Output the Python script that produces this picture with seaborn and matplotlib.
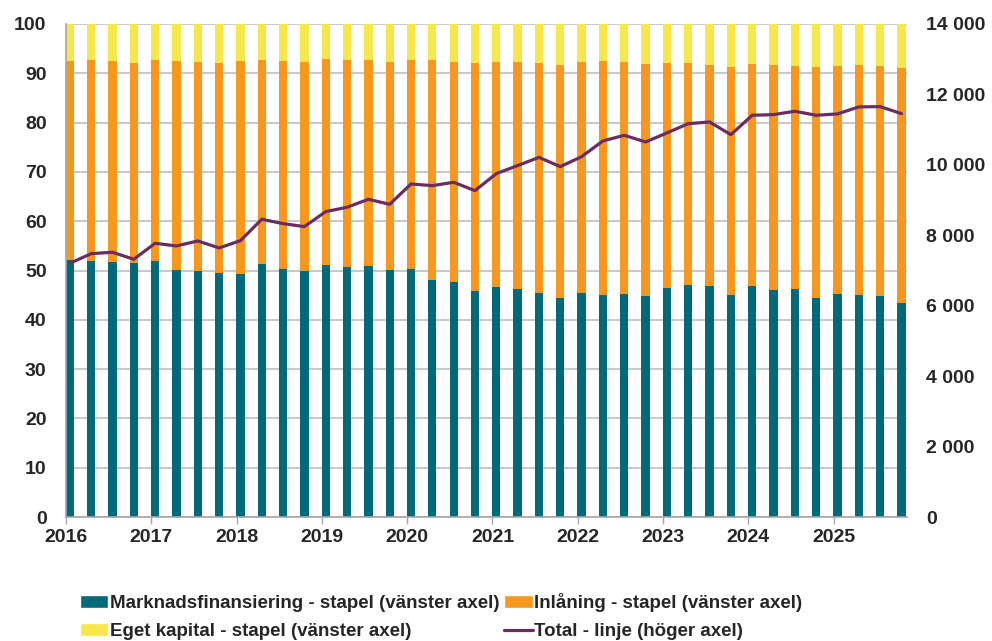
import numpy as np
import pandas as pd
import matplotlib
matplotlib.use("Agg")
import matplotlib.pyplot as plt
import seaborn as sns
from matplotlib.patches import Patch
from matplotlib.lines import Line2D

# ---------------- data ----------------
quarters = [f"{y}Q{q}" for y in range(2016, 2026) for q in range(1, 5)]

marknad = [52.2, 51.9, 51.8, 51.6, 52.0, 50.1, 50.0, 49.5, 49.3, 51.3,
           50.4, 50.0, 51.2, 50.7, 50.9, 50.2, 50.3, 48.1, 47.6, 45.9,
           46.6, 46.2, 45.4, 44.4, 45.4, 45.1, 45.2, 44.9, 46.4, 47.0,
           46.9, 45.1, 46.8, 46.1, 46.3, 44.5, 45.3, 45.1, 44.8, 43.5]

inlaning = [40.3, 40.7, 40.6, 40.4, 40.6, 42.3, 42.3, 42.5, 43.2, 41.4,
            42.0, 42.2, 41.7, 42.0, 41.7, 42.1, 42.4, 44.5, 44.7, 46.1,
            45.6, 46.0, 46.7, 47.3, 46.8, 47.3, 47.0, 46.9, 45.6, 45.0,
            44.8, 46.2, 45.1, 45.6, 45.2, 46.7, 46.2, 46.6, 46.6, 47.5]

eget = [7.5, 7.4, 7.6, 8.0, 7.4, 7.6, 7.7, 8.0, 7.5, 7.3,
        7.6, 7.8, 7.1, 7.3, 7.4, 7.7, 7.3, 7.4, 7.7, 8.0,
        7.8, 7.8, 7.9, 8.3, 7.8, 7.6, 7.8, 8.2, 8.0, 8.0,
        8.3, 8.7, 8.1, 8.3, 8.5, 8.8, 8.5, 8.3, 8.6, 9.0]

total = [7205, 7478, 7518, 7319, 7773, 7697, 7839, 7640, 7848, 8455,
         8331, 8246, 8672, 8795, 9022, 8880, 9457, 9410, 9505, 9268,
         9751, 9980, 10213, 9950, 10233, 10679, 10840, 10650, 10906, 11170,
         11218, 10858, 11408, 11427, 11522, 11408, 11446, 11645, 11654, 11455]

year_ticks = list(range(2016, 2026))
left_ticks = list(range(0, 101, 10))
right_ticks = list(range(0, 14001, 2000))

labels = ["Marknadsfinansiering - stapel (vänster axel)",
          "Inlåning - stapel (vänster axel)",
          "Eget kapital - stapel (vänster axel)",
          "Total - linje (höger axel)"]

# ---------------- build frame ----------------
per = pd.PeriodIndex(quarters, freq="Q")
xpos = per.year + (per.quarter - 1) / 4 + 0.045
df = pd.DataFrame({"x": xpos, "marknad": marknad, "inlaning": inlaning,
                   "eget": eget, "total": total})
df["top_inl"] = df["marknad"] + df["inlaning"]
df["top_eget"] = df["top_inl"] + df["eget"]

c_teal = "#006A7A"
c_orange = "#F7981D"
c_yellow = "#F6E84B"
c_line = "#6B2C5F"
c_grid = "#BFBFBF"

sns.set_theme(style="white")
plt.rcParams["font.family"] = ["Liberation Sans", "DejaVu Sans"]
plt.rcParams["font.weight"] = "bold"

fig = plt.figure(figsize=(9.92, 6.41), dpi=100)
ax = fig.add_axes([66 / 992, 1 - 517 / 641, (907 - 66) / 992, (517 - 24) / 641])

for col, color in [("top_eget", c_yellow), ("top_inl", c_orange), ("marknad", c_teal)]:
    sns.barplot(data=df, x="x", y=col, native_scale=True, width=0.39,
                color=color, saturation=1, errorbar=None, linewidth=0, ax=ax)

ax.set_xlim(2016, 2025.86)
ax.set_ylim(0, 100)
ax.set_yticks(left_ticks)
ax.set_xticks(year_ticks)
ax.set_xticklabels([str(y) for y in year_ticks], fontsize=14, fontweight="bold")
ax.set_yticklabels([str(v) for v in left_ticks], fontsize=14, fontweight="bold")
ax.set_xlabel("")
ax.set_ylabel("")
ax.set_axisbelow(True)
ax.yaxis.grid(True, color=c_grid, linewidth=1.2)
ax.xaxis.grid(False)
for s in ["top", "right"]:
    ax.spines[s].set_visible(False)
for s in ["left", "bottom"]:
    ax.spines[s].set_color("#A6A6A6")
    ax.spines[s].set_linewidth(1.2)
ax.tick_params(axis="y", length=0, pad=14)
ax.tick_params(axis="x", length=5, width=1, color="#A6A6A6", pad=4, direction="out", bottom=True)

ax2 = ax.twinx()
sns.lineplot(data=df, x="x", y="total", color=c_line, linewidth=2.3, ax=ax2)
ax2.set_ylim(0, 14000)
ax2.set_xlim(2016, 2025.86)
ax2.set_yticks(right_ticks)
ax2.set_yticklabels([f"{v:,}".replace(",", " ") for v in right_ticks], fontsize=14, fontweight="bold")
ax2.set_ylabel("")
ax2.set_xlabel("")
ax2.tick_params(axis="y", length=0, pad=14)
for s in ["top", "right", "left", "bottom"]:
    ax2.spines[s].set_visible(False)
ax2.grid(False)

handles = [Patch(facecolor=c_teal), Patch(facecolor=c_yellow),
           Patch(facecolor=c_orange), Line2D([0], [0], color=c_line, lw=2.3)]
leg_labels = [labels[0], labels[2], labels[1], labels[3]]
fig.legend(handles, leg_labels, loc="upper left", bbox_to_anchor=(80 / 992, 1 - 593 / 641),
           ncol=2, frameon=False, prop={"weight": "bold", "size": 13.5},
           handlelength=1.5, handleheight=0.65, handletextpad=0.1, columnspacing=0.26,
           labelspacing=0.6, borderpad=0, borderaxespad=0)

fig.savefig("out.png", dpi=100)
